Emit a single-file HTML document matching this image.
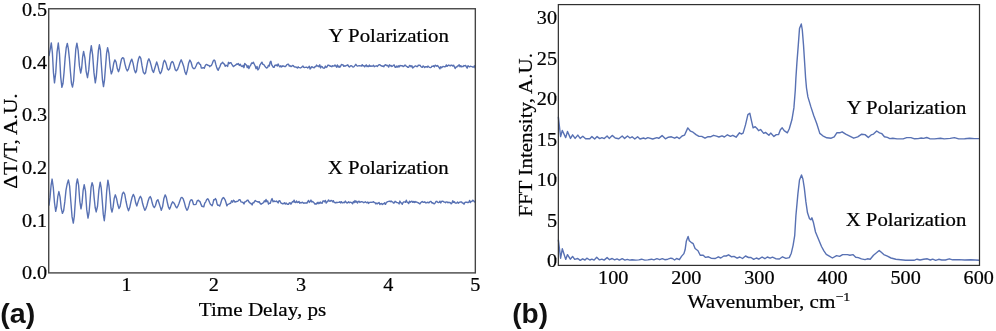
<!DOCTYPE html>
<html><head><meta charset="utf-8"><title>Figure</title>
<style>
html,body{margin:0;padding:0;background:#fff;}
body{width:996px;height:331px;overflow:hidden;}
svg{display:block;}
.s{font-family:"Liberation Serif",serif;font-size:19.8px;fill:#000;stroke:#000;stroke-width:0.22px;}
.b{font-family:"Liberation Sans",sans-serif;font-weight:bold;font-size:27px;fill:#111;}
.fr{fill:none;stroke:#444;stroke-width:1.38;}
.fr2{fill:none;stroke:#303030;stroke-width:1.22;}
.c{fill:none;stroke:#5871b3;stroke-width:1.4;stroke-linejoin:round;stroke-linecap:round;}
</style></head><body>
<svg width="996" height="331" viewBox="0 0 996 331">
<rect x="0" y="0" width="996" height="331" fill="#fff"/>

<path class="c" d="M49.00,55.64 L50.15,49.67 L51.30,42.93 L52.37,52.52 L53.43,72.35 L54.50,82.92 L55.77,72.39 L57.03,52.18 L58.30,43.00 L59.50,54.19 L60.70,76.85 L61.90,87.34 L62.98,83.54 L64.06,72.36 L65.14,57.86 L66.22,47.73 L67.30,43.36 L68.34,48.58 L69.38,58.43 L70.42,71.80 L71.46,83.43 L72.50,87.10 L73.60,80.95 L74.70,64.62 L75.80,49.21 L76.90,43.11 L78.17,50.70 L79.43,65.91 L80.70,73.06 L81.67,68.20 L82.63,56.76 L83.60,51.46 L84.90,57.86 L86.20,71.59 L87.50,77.67 L88.77,69.93 L90.03,54.41 L91.30,45.66 L92.63,54.90 L93.97,72.65 L95.30,82.79 L96.33,76.35 L97.35,63.68 L98.38,50.61 L99.40,44.76 L100.43,50.17 L101.45,66.03 L102.47,79.95 L103.50,86.56 L104.53,79.81 L105.55,66.38 L106.57,53.37 L107.60,47.72 L108.83,53.07 L110.07,66.51 L111.30,73.88 L112.50,70.71 L113.70,63.33 L114.90,59.85 L116.10,62.06 L117.30,68.54 L118.50,71.66 L119.53,68.86 L120.55,63.48 L121.57,58.94 L122.60,57.68 L123.77,58.44 L124.95,64.10 L126.12,68.50 L127.30,70.93 L128.43,69.11 L129.55,64.96 L130.68,61.42 L131.80,59.11 L133.03,63.12 L134.27,69.48 L135.50,72.86 L136.53,70.83 L137.55,63.28 L138.57,58.74 L139.60,56.38 L140.82,58.45 L142.05,65.98 L143.28,72.15 L144.50,73.97 L145.60,72.71 L146.70,66.56 L147.80,61.03 L148.90,58.82 L150.05,61.49 L151.20,65.65 L152.35,70.32 L153.50,72.49 L154.57,68.94 L155.63,65.57 L156.70,61.96 L157.90,65.64 L159.10,70.71 L160.30,73.71 L161.33,72.00 L162.35,68.30 L163.38,62.86 L164.40,60.20 L165.43,61.79 L166.45,64.82 L167.47,68.85 L168.50,70.01 L169.73,68.51 L170.97,63.17 L172.20,61.53 L173.22,62.60 L174.25,65.84 L175.28,69.74 L176.30,70.76 L177.53,69.50 L178.75,66.19 L179.97,62.57 L181.20,59.81 L182.42,62.69 L183.65,66.17 L184.88,71.65 L186.10,74.56 L187.37,70.10 L188.63,63.22 L189.90,60.09 L191.10,62.26 L192.30,66.76 L193.50,68.62 L194.78,68.55 L196.05,66.04 L197.32,63.09 L198.60,62.28 L199.53,64.08 L200.45,64.45 L201.38,68.12 L202.30,67.99 L203.28,67.60 L204.26,68.30 L205.24,65.64 L206.22,64.46 L207.20,64.68 L208.02,65.37 L208.85,65.33 L209.68,66.70 L210.50,65.82 L211.40,65.52 L212.30,63.55 L213.20,60.92 L214.10,59.99 L214.92,60.77 L215.74,64.15 L216.56,67.02 L217.38,69.17 L218.20,70.36 L219.12,68.09 L220.05,66.34 L220.97,63.83 L221.90,63.10 L222.72,62.26 L223.54,63.77 L224.36,63.90 L225.18,66.26 L226.00,65.34 L226.82,65.53 L227.64,66.39 L228.46,62.33 L229.28,63.58 L230.10,62.76 L230.92,62.59 L231.74,64.11 L232.56,65.28 L233.38,66.59 L234.20,65.92 L235.02,65.44 L235.84,64.93 L236.66,64.00 L237.48,64.26 L238.30,63.47 L239.30,65.44 L240.30,64.25 L241.30,66.04 L242.30,66.64 L243.12,65.36 L243.95,67.67 L244.78,63.34 L245.60,64.67 L246.43,64.89 L247.25,67.62 L248.07,65.70 L248.90,68.56 L249.80,66.40 L250.70,65.13 L251.60,62.98 L252.50,63.31 L253.40,62.29 L254.30,64.21 L255.20,66.03 L256.10,68.70 L257.00,66.38 L257.90,69.92 L258.90,68.55 L259.90,65.21 L260.90,63.65 L261.90,62.13 L262.88,64.36 L263.86,64.64 L264.84,66.06 L265.82,67.47 L266.80,68.04 L267.62,67.41 L268.45,65.30 L269.28,66.09 L270.10,62.27 L270.92,61.26 L271.74,64.95 L272.56,66.04 L273.38,67.35 L274.20,67.24 L274.90,65.22 L275.70,65.31 L276.50,64.92 L277.30,66.01 L278.10,64.02 L278.91,65.62 L279.71,66.76 L280.51,65.84 L281.31,67.03 L282.11,65.79 L282.91,66.43 L283.71,65.98 L284.51,66.50 L285.32,66.66 L286.12,65.87 L286.92,64.69 L287.72,64.25 L288.52,64.30 L289.32,66.13 L290.12,65.67 L290.92,66.56 L291.73,66.24 L292.53,65.39 L293.33,65.72 L294.13,66.73 L294.93,67.09 L295.73,66.90 L296.53,67.35 L297.33,68.06 L298.13,66.85 L298.94,67.64 L299.74,67.59 L300.54,67.95 L301.34,67.49 L302.14,66.74 L302.94,66.06 L303.74,67.39 L304.54,67.44 L305.35,67.39 L306.15,67.26 L306.95,67.26 L307.75,67.93 L308.55,67.24 L309.35,66.21 L310.15,68.95 L310.95,67.96 L311.76,66.66 L312.56,67.06 L313.36,67.59 L314.16,67.71 L314.96,66.76 L315.76,66.56 L316.56,65.09 L317.36,66.12 L318.16,65.97 L318.97,66.81 L319.77,64.78 L320.57,67.93 L321.37,66.33 L322.17,66.58 L322.97,67.94 L323.77,68.19 L324.57,68.03 L325.38,66.04 L326.18,67.45 L326.98,66.94 L327.78,65.22 L328.58,65.08 L329.38,65.60 L330.18,66.26 L330.98,66.05 L331.79,66.69 L332.59,65.73 L333.39,66.17 L334.19,65.97 L334.99,65.06 L335.79,66.04 L336.59,67.16 L337.39,64.90 L338.19,67.10 L339.00,66.06 L339.80,67.25 L340.60,66.22 L341.40,64.51 L342.20,64.83 L343.00,64.82 L343.80,66.36 L344.60,65.81 L345.41,66.16 L346.21,65.54 L347.01,65.33 L347.81,64.79 L348.61,66.42 L349.41,66.97 L350.21,66.14 L351.01,65.71 L351.82,65.93 L352.62,66.84 L353.42,67.08 L354.22,66.42 L355.02,65.43 L355.82,64.34 L356.62,65.50 L357.42,66.17 L358.22,65.91 L359.03,65.77 L359.83,65.69 L360.63,65.86 L361.43,66.06 L362.23,64.71 L363.03,65.94 L363.83,65.64 L364.63,66.86 L365.44,65.77 L366.24,64.88 L367.04,66.58 L367.84,65.95 L368.64,66.59 L369.44,65.09 L370.24,66.38 L371.04,65.96 L371.85,66.23 L372.65,66.12 L373.45,65.29 L374.25,66.74 L375.05,66.13 L375.85,66.03 L376.65,65.81 L377.45,66.42 L378.25,65.40 L379.06,64.79 L379.86,64.60 L380.66,65.55 L381.46,65.72 L382.26,66.38 L383.06,65.85 L383.86,66.70 L384.66,65.26 L385.47,64.70 L386.27,65.51 L387.07,65.17 L387.87,65.84 L388.67,67.09 L389.47,64.79 L390.27,65.92 L391.07,65.46 L391.88,66.49 L392.68,66.08 L393.48,65.11 L394.28,64.96 L395.08,67.33 L395.88,67.26 L396.68,66.08 L397.48,67.04 L398.28,65.77 L399.09,67.01 L399.89,65.45 L400.69,65.77 L401.49,65.72 L402.29,65.74 L403.09,66.60 L403.89,66.25 L404.69,65.15 L405.50,65.10 L406.30,66.28 L407.10,66.59 L407.90,67.42 L408.70,67.34 L409.50,65.42 L410.30,65.76 L411.10,66.74 L411.91,65.75 L412.71,68.10 L413.51,67.27 L414.31,66.69 L415.11,66.01 L415.91,66.02 L416.71,66.61 L417.51,66.56 L418.31,65.21 L419.12,65.39 L419.92,65.11 L420.72,66.22 L421.52,67.15 L422.32,67.28 L423.12,65.95 L423.92,66.62 L424.72,67.53 L425.53,66.76 L426.33,66.68 L427.13,67.24 L427.93,66.07 L428.73,66.76 L429.53,67.40 L430.33,67.64 L431.13,67.38 L431.94,66.20 L432.74,66.41 L433.54,65.71 L434.34,66.94 L435.14,65.22 L435.94,65.66 L436.74,66.23 L437.54,65.39 L438.34,66.53 L439.15,67.55 L439.95,68.81 L440.75,66.62 L441.55,67.78 L442.35,66.99 L443.15,66.36 L443.95,66.57 L444.75,66.69 L445.56,66.61 L446.36,64.88 L447.16,66.36 L447.96,65.55 L448.76,65.01 L449.56,65.63 L450.36,65.87 L451.16,65.12 L451.97,65.21 L452.77,66.11 L453.57,65.17 L454.37,66.76 L455.17,68.50 L455.97,67.04 L456.77,67.08 L457.57,65.90 L458.37,65.96 L459.18,64.73 L459.98,66.83 L460.78,65.64 L461.58,66.77 L462.38,66.36 L463.18,66.43 L463.98,65.56 L464.78,65.88 L465.59,65.48 L466.39,66.83 L467.19,68.14 L467.99,65.68 L468.79,66.33 L469.59,66.89 L470.39,66.15 L471.19,66.44 L472.00,66.70 L472.80,67.12 L473.60,67.06 L474.40,65.84 L475.20,68.09"/>
<path class="c" d="M49.00,205.17 L50.03,197.42 L51.07,185.45 L52.10,179.07 L53.30,187.57 L54.50,202.75 L55.70,211.39 L56.77,206.32 L57.83,196.36 L58.90,191.58 L60.07,197.19 L61.23,208.21 L62.40,213.35 L63.60,210.79 L64.80,201.88 L66.00,190.14 L67.20,183.91 L68.40,179.90 L69.62,186.03 L70.85,201.73 L72.08,216.92 L73.30,223.13 L74.33,216.10 L75.35,200.75 L76.38,184.01 L77.40,178.92 L78.60,185.24 L79.80,201.12 L81.00,208.91 L82.07,202.88 L83.13,190.40 L84.20,184.64 L85.47,191.03 L86.73,209.63 L88.00,218.06 L89.03,212.72 L90.05,201.15 L91.07,187.35 L92.10,182.59 L93.12,186.02 L94.15,197.82 L95.17,207.51 L96.20,211.95 L97.53,206.27 L98.87,190.14 L100.20,182.13 L101.22,187.84 L102.25,200.61 L103.28,214.38 L104.30,220.75 L105.50,209.59 L106.70,191.05 L107.90,180.16 L108.93,185.56 L109.95,195.72 L110.97,207.96 L112.00,212.05 L113.10,207.20 L114.20,198.35 L115.30,194.84 L116.53,198.48 L117.77,204.56 L119.00,208.48 L120.12,206.41 L121.25,200.01 L122.38,193.94 L123.50,192.13 L124.75,194.25 L126.00,201.27 L127.25,207.11 L128.50,210.75 L129.72,207.57 L130.95,201.80 L132.18,197.01 L133.40,194.41 L134.53,196.96 L135.67,202.77 L136.80,205.92 L138.00,202.14 L139.20,198.61 L140.40,196.26 L141.50,198.25 L142.60,203.54 L143.70,207.28 L144.80,210.27 L145.88,208.57 L146.96,205.47 L148.04,201.25 L149.12,197.92 L150.20,196.57 L151.22,198.56 L152.25,203.06 L153.28,206.17 L154.30,207.58 L155.50,205.48 L156.70,201.05 L157.90,199.65 L159.03,203.05 L160.17,206.65 L161.30,210.37 L162.60,206.59 L163.90,198.47 L165.20,194.85 L166.27,197.19 L167.35,202.53 L168.43,206.98 L169.50,209.20 L170.53,206.88 L171.57,203.83 L172.60,201.85 L173.65,202.70 L174.70,204.23 L175.75,206.72 L176.80,207.90 L177.84,206.10 L178.88,203.74 L179.92,200.74 L180.96,197.87 L182.00,197.35 L183.22,198.92 L184.45,202.83 L185.68,207.54 L186.90,210.34 L187.93,208.79 L188.95,205.39 L189.97,201.31 L191.00,199.78 L192.27,200.23 L193.53,204.44 L194.80,204.62 L196.00,204.38 L197.20,200.83 L198.40,200.23 L199.28,201.14 L200.16,201.90 L201.04,204.41 L201.92,206.37 L202.80,206.53 L203.78,206.80 L204.76,203.14 L205.74,201.80 L206.72,199.49 L207.70,198.77 L208.60,200.01 L209.50,202.18 L210.40,204.17 L211.30,205.01 L212.12,205.86 L212.94,203.39 L213.76,199.72 L214.58,199.79 L215.40,198.60 L216.22,199.80 L217.05,203.94 L217.88,205.41 L218.70,205.14 L219.68,206.13 L220.66,203.50 L221.64,200.13 L222.62,198.18 L223.60,197.60 L224.42,198.75 L225.24,200.18 L226.06,202.74 L226.88,205.90 L227.70,204.46 L228.68,204.06 L229.66,203.48 L230.64,203.29 L231.62,200.83 L232.60,202.15 L233.40,200.16 L234.20,200.87 L235.00,202.15 L235.80,201.71 L236.62,201.51 L237.45,201.41 L238.28,200.67 L239.10,199.79 L240.08,199.80 L241.06,201.92 L242.04,202.18 L243.02,202.50 L244.00,203.97 L244.80,201.87 L245.60,201.73 L246.40,201.14 L247.20,200.19 L248.02,200.13 L248.84,201.90 L249.66,202.45 L250.48,203.43 L251.30,203.48 L252.12,205.00 L252.94,202.62 L253.76,202.87 L254.58,201.35 L255.40,200.49 L256.35,201.42 L257.30,201.62 L258.25,202.21 L259.20,201.70 L260.15,203.37 L261.10,204.22 L261.92,203.57 L262.74,203.16 L263.56,202.53 L264.38,200.84 L265.20,201.78 L266.02,199.47 L266.85,201.66 L267.68,201.00 L268.50,204.16 L269.40,203.09 L270.30,203.20 L271.20,200.39 L272.10,198.58 L273.07,201.82 L274.03,200.93 L275.00,201.59 L275.70,201.42 L276.50,201.01 L277.30,201.98 L278.10,202.91 L278.90,200.85 L279.71,200.70 L280.51,202.08 L281.31,203.36 L282.11,203.45 L282.91,203.92 L283.71,203.44 L284.51,202.68 L285.31,204.14 L286.12,203.05 L286.92,203.93 L287.72,204.42 L288.52,204.25 L289.32,202.99 L290.12,202.74 L290.92,204.15 L291.72,202.87 L292.53,201.54 L293.33,201.96 L294.13,200.15 L294.93,202.39 L295.73,202.57 L296.53,200.99 L297.33,202.45 L298.13,202.30 L298.93,201.37 L299.74,203.16 L300.54,202.53 L301.34,202.90 L302.14,202.25 L302.94,202.65 L303.74,203.34 L304.54,202.91 L305.34,202.96 L306.15,202.95 L306.95,203.17 L307.75,201.54 L308.55,200.42 L309.35,202.41 L310.15,201.49 L310.95,200.05 L311.75,201.95 L312.56,201.48 L313.36,202.13 L314.16,202.94 L314.96,204.17 L315.76,203.77 L316.56,203.98 L317.36,202.42 L318.16,203.75 L318.97,202.25 L319.77,203.49 L320.57,202.06 L321.37,203.17 L322.17,203.23 L322.97,201.02 L323.77,200.83 L324.57,201.80 L325.37,200.36 L326.18,203.05 L326.98,202.01 L327.78,201.26 L328.58,199.97 L329.38,201.06 L330.18,201.29 L330.98,200.37 L331.78,200.68 L332.59,201.81 L333.39,200.68 L334.19,202.49 L334.99,202.46 L335.79,202.95 L336.59,202.31 L337.39,202.48 L338.19,202.42 L339.00,202.37 L339.80,201.72 L340.60,202.96 L341.40,201.64 L342.20,202.84 L343.00,202.70 L343.80,202.28 L344.60,202.67 L345.40,201.05 L346.21,202.19 L347.01,203.07 L347.81,202.61 L348.61,201.71 L349.41,202.76 L350.21,202.25 L351.01,202.38 L351.81,202.82 L352.62,203.74 L353.42,201.58 L354.22,202.59 L355.02,200.58 L355.82,202.17 L356.62,201.33 L357.42,203.06 L358.22,201.73 L359.03,201.17 L359.83,202.51 L360.63,201.85 L361.43,201.75 L362.23,201.79 L363.03,202.10 L363.83,202.73 L364.63,202.22 L365.43,201.75 L366.24,202.52 L367.04,202.72 L367.84,202.03 L368.64,203.44 L369.44,202.38 L370.24,202.39 L371.04,202.23 L371.84,202.40 L372.65,202.14 L373.45,201.61 L374.25,202.57 L375.05,202.62 L375.85,203.92 L376.65,203.11 L377.45,203.80 L378.25,203.08 L379.06,202.43 L379.86,204.52 L380.66,203.59 L381.46,203.57 L382.26,204.49 L383.06,203.65 L383.86,203.71 L384.66,202.83 L385.47,204.36 L386.27,202.79 L387.07,201.93 L387.87,201.63 L388.67,201.43 L389.47,201.24 L390.27,201.67 L391.07,200.96 L391.87,201.82 L392.68,201.92 L393.48,203.05 L394.28,202.90 L395.08,201.27 L395.88,201.86 L396.68,202.50 L397.48,202.63 L398.28,202.88 L399.09,203.91 L399.89,201.08 L400.69,202.72 L401.49,202.90 L402.29,204.33 L403.09,202.55 L403.89,201.84 L404.69,201.88 L405.50,202.36 L406.30,200.26 L407.10,202.20 L407.90,202.50 L408.70,203.62 L409.50,201.18 L410.30,202.25 L411.10,201.54 L411.90,201.12 L412.71,202.33 L413.51,201.54 L414.31,202.51 L415.11,201.48 L415.91,202.19 L416.71,202.00 L417.51,202.62 L418.31,202.64 L419.12,203.43 L419.92,203.95 L420.72,202.66 L421.52,201.93 L422.32,201.51 L423.12,202.27 L423.92,202.32 L424.72,201.78 L425.53,202.69 L426.33,202.84 L427.13,202.44 L427.93,202.30 L428.73,202.88 L429.53,202.13 L430.33,201.54 L431.13,201.52 L431.93,203.01 L432.74,202.70 L433.54,203.51 L434.34,203.76 L435.14,203.01 L435.94,201.45 L436.74,201.32 L437.54,202.21 L438.34,202.62 L439.15,202.42 L439.95,201.16 L440.75,202.98 L441.55,201.49 L442.35,201.17 L443.15,201.35 L443.95,202.10 L444.75,202.08 L445.56,202.68 L446.36,201.88 L447.16,201.89 L447.96,202.71 L448.76,202.28 L449.56,202.56 L450.36,202.69 L451.16,203.85 L451.97,202.99 L452.77,200.72 L453.57,202.32 L454.37,201.76 L455.17,202.96 L455.97,203.16 L456.77,202.95 L457.57,202.09 L458.37,203.15 L459.18,202.45 L459.98,202.08 L460.78,201.89 L461.58,201.95 L462.38,203.13 L463.18,203.07 L463.98,204.20 L464.78,202.58 L465.59,202.15 L466.39,202.23 L467.19,202.27 L467.99,202.70 L468.79,202.18 L469.59,200.43 L470.39,202.59 L471.19,201.39 L472.00,201.36 L472.80,200.20 L473.60,200.82 L474.40,201.75 L475.20,201.95"/>
<path class="c" d="M558.40,117.30 L560.60,136.60 L562.30,130.50 L565.70,137.60 L567.50,131.50 L570.50,138.40 L572.60,134.80 L575.10,138.40 L577.80,135.10 L580.20,138.40 L582.80,136.30 L585.60,138.80 L589.80,138.80 L591.90,136.60 L594.70,139.00 L597.10,136.60 L599.70,138.60 L601.90,137.60 L604.30,138.60 L607.10,136.00 L609.20,138.40 L612.20,135.40 L615.20,138.00 L618.80,138.80 L622.20,136.00 L624.60,138.40 L627.50,136.00 L630.00,138.00 L632.10,136.80 L634.80,139.00 L637.60,136.80 L640.00,139.00 L643.60,138.00 L645.40,138.80 L647.80,137.60 L652.70,139.00 L656.90,137.60 L658.70,138.40 L662.10,135.60 L665.40,138.80 L668.40,137.20 L671.40,136.80 L674.60,138.20 L677.00,137.00 L679.40,138.60 L682.10,136.00 L684.50,135.20 L687.80,127.90 L690.50,131.20 L693.00,132.20 L696.00,134.60 L699.00,136.40 L701.70,136.40 L705.00,138.20 L708.10,136.60 L710.50,136.80 L713.50,135.30 L716.50,136.20 L718.90,137.00 L722.00,135.80 L724.40,137.00 L727.40,134.80 L730.40,136.40 L732.80,135.30 L736.10,137.20 L739.50,132.80 L741.30,134.00 L743.10,133.10 L745.50,124.90 L747.90,114.60 L749.80,113.20 L751.60,121.30 L753.10,127.90 L755.20,126.70 L757.00,128.50 L758.60,130.70 L760.60,129.50 L763.70,133.40 L765.50,132.40 L768.90,135.20 L770.70,133.10 L773.90,136.40 L776.30,134.60 L778.60,134.60 L780.40,129.80 L782.20,127.80 L784.20,130.70 L787.40,132.80 L789.30,128.80 L791.90,119.80 L793.90,107.90 L795.30,90.00 L795.90,78.00 L796.90,62.90 L798.30,44.90 L799.50,28.60 L800.30,26.50 L801.30,24.00 L802.30,30.00 L803.50,44.90 L804.90,66.80 L805.60,78.00 L806.50,88.00 L807.90,96.90 L810.90,106.90 L813.80,115.80 L816.80,123.80 L819.80,133.40 L822.80,135.80 L826.80,137.80 L831.20,138.20 L834.20,136.80 L836.80,132.80 L839.70,132.80 L842.10,131.80 L845.70,134.20 L849.70,136.20 L853.70,138.20 L857.70,136.80 L861.70,134.20 L865.00,134.60 L868.30,137.40 L871.10,134.90 L873.50,134.10 L876.70,131.00 L879.50,132.80 L881.90,133.70 L884.40,136.80 L887.40,137.40 L889.80,138.60 L892.80,138.20 L897.00,138.90 L903.10,138.90 L906.70,137.60 L910.90,137.60 L914.60,138.80 L918.20,138.60 L921.20,138.00 L923.60,138.40 L926.70,137.50 L929.70,138.70 L934.50,138.90 L940.50,138.20 L944.20,138.90 L950.20,138.40 L954.40,137.60 L958.70,138.90 L964.70,138.70 L969.60,138.20 L974.40,138.60 L979.30,138.60"/>
<path class="c" d="M558.40,240.10 L560.60,258.20 L562.30,248.80 L565.70,259.40 L567.50,254.60 L570.30,259.20 L572.60,256.40 L574.70,259.40 L577.80,258.50 L580.20,260.40 L582.60,258.80 L585.00,260.00 L586.80,258.20 L589.80,260.00 L591.90,259.20 L594.10,260.10 L596.70,257.20 L599.50,259.90 L601.90,259.20 L604.10,260.10 L607.10,257.60 L609.50,259.70 L612.20,258.50 L614.60,259.90 L617.00,258.90 L619.40,260.10 L622.20,258.70 L624.90,260.10 L627.30,259.40 L629.70,260.10 L632.10,259.70 L635.80,260.10 L638.80,259.90 L641.60,259.20 L644.80,260.10 L647.80,259.90 L651.50,259.20 L653.90,259.90 L656.90,258.70 L659.70,259.70 L662.30,258.70 L664.80,259.70 L667.80,259.20 L670.80,258.20 L672.40,258.50 L674.60,260.00 L676.60,258.50 L679.40,259.70 L681.50,256.40 L683.90,253.60 L685.10,249.80 L686.30,241.30 L688.10,236.50 L689.30,240.70 L691.10,242.30 L693.20,243.70 L695.10,248.50 L698.00,250.70 L700.20,255.20 L703.20,255.20 L705.60,257.40 L708.40,256.80 L711.10,258.20 L715.30,258.50 L718.30,256.80 L720.80,258.00 L723.80,256.00 L726.20,256.00 L728.60,254.80 L731.60,256.80 L734.00,256.40 L737.10,258.20 L739.80,257.00 L742.50,258.50 L745.50,256.00 L748.50,257.50 L751.00,257.50 L753.70,259.40 L756.40,258.00 L758.80,259.20 L762.10,257.00 L764.90,258.70 L767.30,257.00 L770.10,258.20 L772.50,257.20 L775.70,258.70 L779.40,259.00 L782.50,256.80 L785.90,258.40 L789.30,257.60 L791.30,253.20 L793.10,245.30 L794.70,235.70 L795.90,215.80 L797.90,193.90 L799.50,180.00 L801.50,175.00 L802.90,179.00 L804.30,187.90 L805.90,201.90 L807.50,212.80 L809.50,218.80 L810.90,219.80 L811.90,217.80 L813.50,222.80 L815.50,232.00 L818.50,239.30 L821.50,246.50 L823.90,250.80 L826.30,254.40 L829.30,256.20 L832.40,258.00 L836.60,255.60 L839.60,256.40 L842.60,254.60 L847.50,254.60 L849.90,255.20 L852.90,254.60 L855.70,257.20 L858.30,257.60 L861.40,258.90 L865.00,259.60 L867.40,258.80 L870.20,259.20 L873.50,255.20 L876.50,252.80 L879.20,250.40 L881.30,252.30 L883.80,254.60 L887.40,256.20 L891.00,258.00 L895.80,259.30 L900.70,259.80 L905.50,260.30 L914.00,260.30 L917.00,259.20 L920.00,260.00 L923.60,259.30 L927.30,258.80 L930.30,260.00 L932.70,259.10 L935.70,260.30 L938.70,259.30 L941.80,260.00 L945.40,260.00 L949.30,258.80 L952.60,259.80 L958.70,259.60 L964.70,260.00 L970.80,259.80 L979.30,260.30"/>
<rect class="fr" x="48.72" y="8.75" width="426.61" height="264.15"/>
<rect class="fr2" x="558.35" y="4.6" width="421.15" height="260.80"/>
<text class="s" transform="translate(47.20,279.40) scale(1.02,1)" text-anchor="end">0.0</text>
<text class="s" transform="translate(47.20,226.68) scale(1.02,1)" text-anchor="end">0.1</text>
<text class="s" transform="translate(47.20,173.96) scale(1.02,1)" text-anchor="end">0.2</text>
<text class="s" transform="translate(47.20,121.24) scale(1.02,1)" text-anchor="end">0.3</text>
<text class="s" transform="translate(47.20,68.52) scale(1.02,1)" text-anchor="end">0.4</text>
<text class="s" transform="translate(47.20,15.80) scale(1.02,1)" text-anchor="end">0.5</text>
<text class="s" transform="translate(126.60,291.10) scale(1.02,1)" text-anchor="middle">1</text>
<text class="s" transform="translate(213.80,291.10) scale(1.02,1)" text-anchor="middle">2</text>
<text class="s" transform="translate(301.00,291.10) scale(1.02,1)" text-anchor="middle">3</text>
<text class="s" transform="translate(388.20,291.10) scale(1.02,1)" text-anchor="middle">4</text>
<text class="s" transform="translate(475.40,291.10) scale(1.02,1)" text-anchor="middle">5</text>
<text class="s" transform="translate(262.50,315.50) scale(1.066,1)" text-anchor="middle">Time Delay, ps</text>
<text class="s" transform="translate(16.90,141.00) rotate(-90) scale(1.081,1)" text-anchor="middle">ΔT/T, A.U.</text>
<text class="s" transform="translate(388.70,42.20) scale(1.054,1)" text-anchor="middle">Y Polarization</text>
<text class="s" transform="translate(388.20,174.20) scale(1.051,1)" text-anchor="middle">X Polarization</text>
<text class="b" transform="translate(0.20,322.50) scale(1.06,1)" text-anchor="start">(a)</text>
<text class="s" transform="translate(557.00,267.00) scale(1.02,1)" text-anchor="end">0</text>
<text class="s" transform="translate(557.00,226.56) scale(1.02,1)" text-anchor="end">5</text>
<text class="s" transform="translate(557.00,186.12) scale(1.02,1)" text-anchor="end">10</text>
<text class="s" transform="translate(557.00,145.68) scale(1.02,1)" text-anchor="end">15</text>
<text class="s" transform="translate(557.00,105.24) scale(1.02,1)" text-anchor="end">20</text>
<text class="s" transform="translate(557.00,64.80) scale(1.02,1)" text-anchor="end">25</text>
<text class="s" transform="translate(557.00,24.36) scale(1.02,1)" text-anchor="end">30</text>
<text class="s" transform="translate(613.20,284.10) scale(1.02,1)" text-anchor="middle">100</text>
<text class="s" transform="translate(686.30,284.10) scale(1.02,1)" text-anchor="middle">200</text>
<text class="s" transform="translate(759.40,284.10) scale(1.02,1)" text-anchor="middle">300</text>
<text class="s" transform="translate(832.50,284.10) scale(1.02,1)" text-anchor="middle">400</text>
<text class="s" transform="translate(905.60,284.10) scale(1.02,1)" text-anchor="middle">500</text>
<text class="s" transform="translate(978.70,284.10) scale(1.02,1)" text-anchor="middle">600</text>
<text class="s" transform="translate(687.60,307.80) scale(1.069,1)" text-anchor="start">Wavenumber, cm<tspan dy="-6.5" font-size="13">−1</tspan></text>
<text class="s" transform="translate(532.10,134.90) rotate(-90) scale(1.064,1)" text-anchor="middle">FFT Intensity, A.U.</text>
<text class="s" transform="translate(906.50,113.90) scale(1.048,1)" text-anchor="middle">Y Polarization</text>
<text class="s" transform="translate(906.00,226.30) scale(1.051,1)" text-anchor="middle">X Polarization</text>
<text class="b" transform="translate(512.20,322.50) scale(1.04,1)" text-anchor="start">(b)</text>
</svg></body></html>
